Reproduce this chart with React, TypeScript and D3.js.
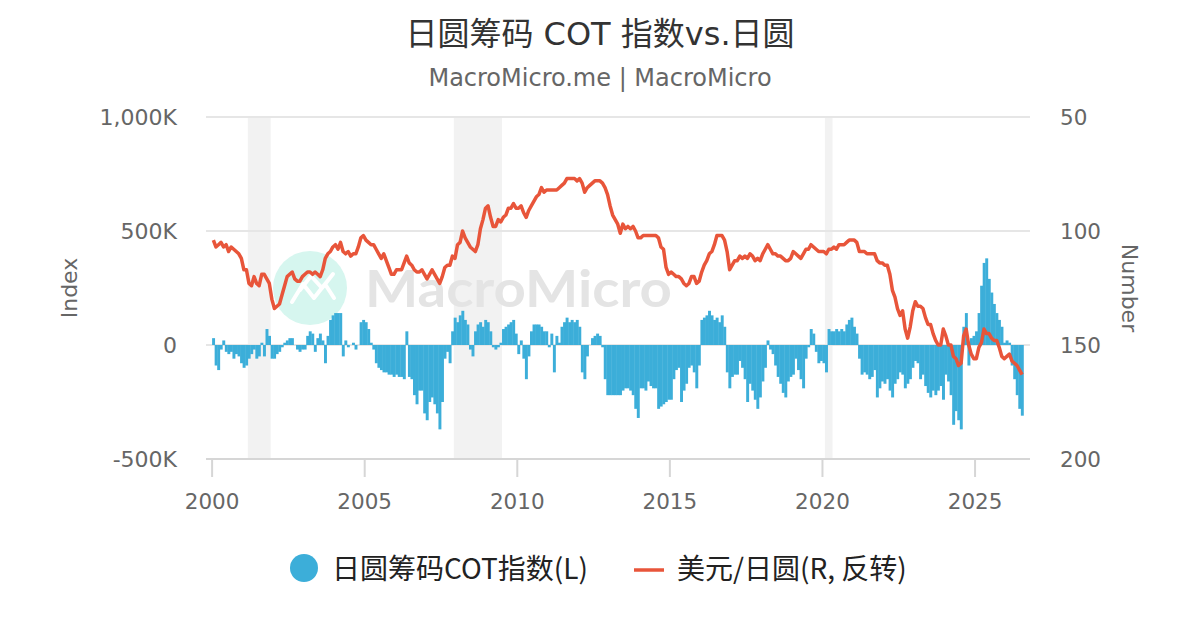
import * as d3 from 'd3';

// Monthly values, starting Jan 2000
const START_YEAR = 2000;

// 日圆筹码 COT 指数 (thousands), monthly
const cotIndex = [
  // 2000
  30, -90, -110, -20, 20, -30, -40, -30, -60, -40, -50, -80,
  // 2001
  -100, -90, -60, -40, -20, -60, -50, 10, -50, 70, 40, -60,
  // 2002
  -60, -40, -30, -10, 10, 20, 30, 30, 0, -20, -30, -20,
  // 2003
  -20, 40, 60, 50, -30, 30, 50, 20, -80, 40, 110, 130,
  // 2004
  140, 140, 140, -50, 20, -10, 0, 10, -20, 0, 100, 110,
  // 2005
  100, 70, 10, -20, -80, -100, -110, -120, -120, -130, -130, -140,
  // 2006
  -130, -140, -140, -150, 60, -140, -150, -220, -260, -200, -200, -300,
  // 2007
  -330, -250, -230, -260, -300, -370, -250, -60, -30, -80, 60, 120,
  // 2008
  100, 130, 150, 110, 90, -20, -50, 60, 90, 100, 80, 110,
  // 2009
  100, 60, -10, -20, -10, 10, 70, 80, 90, 100, 110, 50,
  // 2010
  -40, 20, -60, -150, -50, 60, 90, 90, 90, 80, 60, 60,
  // 2011
  -10, 50, -120, 40, 10, 80, 100, 120, 100, 110, 100, 110,
  // 2012
  80, -120, -150, -50, 0, 30, 40, 50, 40, -10, -150, -220,
  // 2013
  -220, -220, -220, -220, -220, -200, -190, -190, -200, -220, -280, -320,
  // 2014
  -190, -190, -200, -160, -180, -190, -190, -280, -270, -260, -250, -240,
  // 2015
  -240, -150, -110, -100, -250, -200, -170, -100, -90, -120, -190, -90,
  // 2016
  110, 120, 130, 150, 130, 110, 120, 100, 130, 80, -120, -190,
  // 2017
  -140, -130, -130, -70, -100, -150, -250, -170, -200, -240, -280, -230,
  // 2018
  -160, -100, 20, -20, -40, -90, -140, -170, -210, -230, -160, -140,
  // 2019
  -130, -60, -110, -150, -190, -60, -10, 70, 50, -30, -80, -70,
  // 2020
  -80, -120, 70, 60, 60, 70, 60, 70, 60, 90, 110, 120,
  // 2021
  80, 50, -60, -130, -120, -130, -150, -140, -110, -230, -190, -160,
  // 2022
  -170, -150, -200, -230, -170, -150, -120, -130, -190, -170, -150, -100,
  // 2023
  -70, -80, -150, -130, -180, -210, -230, -200, -220, -200, -180, -240,
  // 2024
  -130, -160, -220, -350, -290, -330, -370, 80, 140, -90, 30, 40,
  // 2025
  60, 140, 260, 360, 380, 290, 230, 180, 140, 110, 80, 10,
  // 2026
  20, 10, -90, -150, -220, -280, -310,
];

// 美元/日圆, monthly
const usdJpy = [
  // 2000
  104, 107, 106, 105, 107, 106, 109, 107, 108, 109, 110, 112,
  // 2001
  117, 117, 123, 124, 120, 123, 124, 119, 119, 121, 123, 130,
  // 2002
  134, 133, 132, 128, 124, 120, 119, 118, 121, 122, 122, 120,
  // 2003
  119, 118, 118, 119, 118, 119, 120, 117, 112, 110, 109, 107,
  // 2004
  106, 108, 105, 109, 110, 109, 111, 110, 110, 107, 103, 102,
  // 2005
  104, 105, 106, 106, 108, 110, 112, 110, 113, 116, 119, 119,
  // 2006
  117, 117, 117, 114, 111, 114, 115, 117, 118, 118, 117, 119,
  // 2007
  121, 119, 117, 119, 121, 123, 120, 116, 115, 115, 111, 112,
  // 2008
  106, 105, 100, 103, 105, 107, 108, 109, 106, 99, 95, 90,
  // 2009
  89, 94, 98, 98, 95, 96, 94, 93, 90, 90, 88, 90,
  // 2010
  90, 89, 92, 94, 91, 89, 87, 85, 84, 81, 83, 82,
  // 2011
  82, 82, 82, 82, 81, 80, 79, 77, 77, 77, 77, 78,
  // 2012
  77, 79, 83, 81, 80, 79, 78, 78, 78, 79, 81, 84,
  // 2013
  89, 93, 95, 97, 101, 97, 99, 98, 99, 98, 100, 103,
  // 2014
  103, 102, 102, 102, 102, 102, 102, 103, 107, 108, 116, 119,
  // 2015
  118, 119, 120, 120, 121, 123, 124, 123, 120, 120, 123, 122,
  // 2016
  118, 115, 113, 110, 109, 106, 102, 102, 102, 104, 109, 117,
  // 2017
  115, 113, 113, 111, 112, 111, 112, 110, 111, 113, 112, 113,
  // 2018
  110, 108, 106, 108, 110, 110, 111, 111, 112, 113, 113, 112,
  // 2019
  109, 110, 111, 112, 110, 108, 108, 106, 107, 108, 109, 109,
  // 2020
  109, 110, 108, 108, 107, 108, 106, 106, 106, 105, 104, 104,
  // 2021
  104, 105, 109, 109, 109, 110, 110, 110, 110, 113, 114, 114,
  // 2022
  115, 115, 119, 126, 129, 134, 137, 135, 143, 147, 142, 135,
  // 2023
  131, 133, 133, 134, 138, 141, 141, 145, 148, 150, 150, 143,
  // 2024
  146, 150, 150, 155, 156, 159, 158, 146, 143, 150, 154, 156,
  // 2025
  156, 151, 149, 143, 145, 145, 147, 148, 148, 151, 155, 156,
  // 2026
  155, 154, 157, 158, 159, 161, 163,
];

const recessions: [number, number][] = [
  [2001.17, 2001.92],
  [2007.92, 2009.5],
  [2020.08, 2020.33],
];

const yearTicks = [2000, 2005, 2010, 2015, 2020, 2025];
const leftTicks = [-500, 0, 500, 1000];
const leftTickLabels = ['-500K', '0', '500K', '1,000K'];
const rightTicks = [50, 100, 150, 200];

const W = 1200;
const H = 630;
const plot = { left: 206, right: 1030, top: 117, bottom: 459 };

const FONT = '"DejaVu Sans", "Noto Sans CJK SC", sans-serif';
const CJK = '"Noto Sans CJK SC", "DejaVu Sans", sans-serif';
const BAR_COLOR = '#3caed9';
const LINE_COLOR = '#e8553a';

export default function App() {
  const x = d3.scaleLinear().domain([1999.8, 2026.8]).range([plot.left, plot.right]);
  const yL = d3.scaleLinear().domain([-500, 1000]).range([plot.bottom, plot.top]);
  const yR = d3.scaleLinear().domain([200, 50]).range([plot.bottom, plot.top]);

  const monthW = x(START_YEAR + 1 / 12) - x(START_YEAR);
  const t = (i: number) => START_YEAR + i / 12;

  const line = d3
    .line<number>()
    .x((_, i) => x(t(i) + 0.5 / 12))
    .y((d) => yR(d));

  return (
    <svg
      width={W}
      height={H}
      style={{ position: 'absolute', left: 0, top: 0, background: '#fff' }}
      fontFamily={FONT}
    >
      <rect width={W} height={H} fill="#fff" />

      {/* title */}
      <text x={W / 2} y={45} textAnchor="middle" fontSize={32} fill="#333">
        日圆筹码 COT 指数vs.日圆
      </text>
      <text x={W / 2} y={86} textAnchor="middle" fontSize={24} fill="#666">
        MacroMicro.me | MacroMicro
      </text>

      {/* recession bands */}
      {recessions.map(([a, b], i) => (
        <rect
          key={i}
          x={x(a)}
          y={plot.top}
          width={x(b) - x(a)}
          height={plot.bottom - plot.top}
          fill="#f2f2f2"
        />
      ))}

      {/* grid */}
      {leftTicks.map((v) => (
        <line
          key={v}
          x1={plot.left}
          x2={plot.right}
          y1={yL(v)}
          y2={yL(v)}
          stroke="#e6e6e6"
          strokeWidth={2}
        />
      ))}

      {/* watermark */}
      <g>
        <circle cx={310} cy={288} r={37} fill="#d6f6ef" />
        <path
          d="M292,302 L303,284 L314,298 L325,284 L334,298 M300,290 L311,276 L322,288 L333,274"
          fill="none"
          stroke="#fff"
          strokeWidth={4}
          strokeLinecap="round"
          strokeLinejoin="round"
        />
        <text
          x={365}
          y={307}
          fontSize={52}
          fontWeight="bold"
          fill="#e4e4e4"
          fontFamily='"Lato", "Open Sans", sans-serif'
          textLength={307}
          lengthAdjust="spacingAndGlyphs"
        >
          MacroMicro
        </text>
      </g>

      {/* bars */}
      <g>
        {cotIndex.map((v, i) => (
          <rect
            key={i}
            x={x(t(i))}
            y={yL(Math.max(v, 0))}
            width={monthW + 0.4}
            height={Math.abs(yL(v) - yL(0))}
            fill={BAR_COLOR}
          />
        ))}
      </g>

      {/* line */}
      <path
        d={line(usdJpy) || ''}
        fill="none"
        stroke={LINE_COLOR}
        strokeWidth={3.5}
        strokeLinejoin="round"
      />

      {/* x axis */}
      <line x1={plot.left} x2={plot.right} y1={plot.bottom} y2={plot.bottom} stroke="#d6d6d6" strokeWidth={2} />
      {yearTicks.map((yr) => (
        <g key={yr}>
          <line x1={x(yr)} x2={x(yr)} y1={plot.bottom} y2={plot.bottom + 18} stroke="#d6d6d6" strokeWidth={2} />
          <text x={x(yr)} y={509} textAnchor="middle" fontSize={21.5} fill="#666">
            {yr}
          </text>
        </g>
      ))}

      {/* left axis */}
      {leftTicks.map((v, i) => (
        <text key={v} x={177} y={yL(v) + 7.5} textAnchor="end" fontSize={22} fill="#666">
          {leftTickLabels[i]}
        </text>
      ))}
      <text
        transform={`translate(77, ${(plot.top + plot.bottom) / 2}) rotate(-90)`}
        textAnchor="middle"
        fontSize={22}
        fill="#666"
      >
        Index
      </text>

      {/* right axis */}
      {rightTicks.map((v) => (
        <text key={v} x={1060} y={yR(v) + 7.5} fontSize={21.5} fill="#666">
          {v}
        </text>
      ))}
      <text
        transform={`translate(1122, ${(plot.top + plot.bottom) / 2}) rotate(90)`}
        textAnchor="middle"
        fontSize={22}
        fill="#666"
      >
        Number
      </text>

      {/* legend */}
      <circle cx={304} cy={568} r={14} fill={BAR_COLOR} />
      <text x={332} y={579} fontSize={28} fill="#222" fontFamily={CJK}>
        日圆筹码COT指数(L)
      </text>
      <line x1={634} x2={664} y1={570} y2={570} stroke={LINE_COLOR} strokeWidth={3.5} />
      <text x={677} y={579} fontSize={28} fill="#222" fontFamily={CJK}>
        美元/日圆(R, 反转)
      </text>
    </svg>
  );
}
